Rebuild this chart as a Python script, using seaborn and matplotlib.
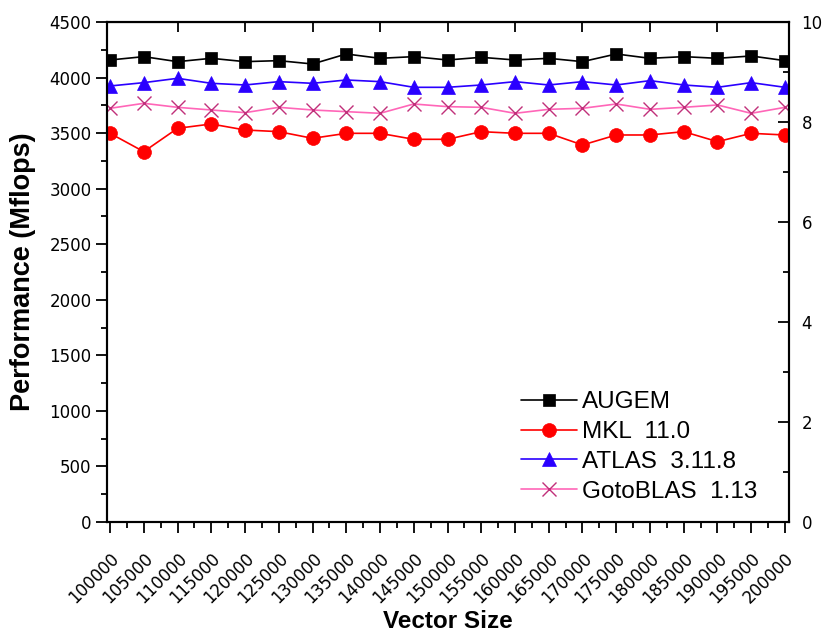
import pandas as pd
import matplotlib.pyplot as plt
import matplotlib.ticker as mticker
import seaborn as sns

vector_size = list(range(100000, 200001, 5000))

augem = [4158, 4188, 4143, 4173, 4143, 4152, 4122, 4212, 4173, 4188, 4158,
         4182, 4158, 4173, 4143, 4212, 4173, 4188, 4173, 4194, 4152]
mkl = [3498, 3333, 3543, 3582, 3528, 3513, 3453, 3498, 3498, 3444, 3444,
       3513, 3498, 3498, 3393, 3483, 3483, 3513, 3423, 3498, 3483]
atlas = [3924, 3954, 3993, 3948, 3933, 3963, 3948, 3978, 3963, 3912, 3912,
         3933, 3963, 3933, 3963, 3933, 3972, 3933, 3912, 3954, 3912]
goto = [3723, 3768, 3732, 3708, 3684, 3732, 3708, 3693, 3678, 3762, 3738,
        3732, 3678, 3714, 3723, 3762, 3714, 3732, 3753, 3678, 3732]

names = ['AUGEM', 'MKL  11.0', 'ATLAS  3.11.8', 'GotoBLAS  1.13']

df = pd.concat([
    pd.DataFrame({'size': vector_size, 'perf': augem, 'lib': names[0]}),
    pd.DataFrame({'size': vector_size, 'perf': mkl, 'lib': names[1]}),
    pd.DataFrame({'size': vector_size, 'perf': atlas, 'lib': names[2]}),
    pd.DataFrame({'size': vector_size, 'perf': goto, 'lib': names[3]}),
])

sns.set_style('ticks')
plt.rcParams['font.family'] = ['Liberation Sans', 'DejaVu Sans']
plt.rcParams['text.color'] = 'black'
plt.rcParams['axes.labelcolor'] = 'black'
plt.rcParams['xtick.color'] = 'black'
plt.rcParams['ytick.color'] = 'black'
plt.rcParams['axes.edgecolor'] = 'black'

fig = plt.figure(figsize=(8.25, 6.37), dpi=100)
ax = fig.add_axes([0.1297, 0.1805, 0.8267, 0.785])

colors = {names[0]: 'black', names[1]: '#ff0000', names[2]: '#2a00ff', names[3]: '#ff66b8'}
markers = {names[0]: 's', names[1]: 'o', names[2]: '^', names[3]: 'x'}
msize = {names[0]: 9, names[1]: 10, names[2]: 10, names[3]: 10}

for name in names:
    sub = df[df['lib'] == name]
    mec = '#c0307a' if name == names[3] else colors[name]
    sns.lineplot(data=sub, x='size', y='perf', ax=ax, color=colors[name],
                 marker=markers[name], markersize=msize[name], linewidth=1.2,
                 markeredgecolor=mec, markerfacecolor=colors[name],
                 markeredgewidth=1.0 if name == names[3] else 0.5,
                 label=name)

tick_font = {'family': 'DejaVu Sans', 'size': 12}

ax.set_xlim(99550, 200600)
ax.set_ylim(0, 4500)
ax.set_xticks(vector_size)
ax.set_xticklabels([str(v) for v in vector_size], rotation=45, ha='right',
                   rotation_mode='anchor', fontdict=tick_font)
ax.xaxis.set_minor_locator(mticker.MultipleLocator(2500))
ax.set_yticks(list(range(0, 4501, 500)))
ax.set_yticklabels([str(v) for v in range(0, 4501, 500)], fontdict=tick_font)
ax.yaxis.set_minor_locator(mticker.MultipleLocator(250))
ax.tick_params(axis='both', which='major', direction='out', length=8, width=1.3)
ax.tick_params(axis='both', which='minor', direction='out', length=4, width=1.3)
ax.tick_params(axis='x', which='major', pad=12)
ax.tick_params(axis='y', which='major', pad=3)
for s in ax.spines.values():
    s.set_linewidth(1.5)

ax.set_xlabel('Vector Size', fontsize=17.5, fontweight='bold', labelpad=2)
ax.set_ylabel('Performance (Mflops)', fontsize=19.5, fontweight='bold', labelpad=10)

top = ax.secondary_xaxis('top')
top.set_xticks(list(range(110000, 200000, 10000)))
top.set_xticklabels([])
top.tick_params(direction='in', length=7, width=1.3)

ax2 = ax.twinx()
ax2.set_ylim(0, 10)
ax2.set_yticks(list(range(0, 11, 2)))
ax2.set_yticklabels([str(v) for v in range(0, 11, 2)], fontdict=tick_font)
ax2.yaxis.set_minor_locator(mticker.MultipleLocator(1))
ax2.tick_params(axis='y', which='major', direction='in', length=8, width=1.3, pad=9)
ax2.tick_params(axis='y', which='minor', direction='in', length=4, width=1.3)
for s in ax2.spines.values():
    s.set_linewidth(1.5)

ax.legend(loc='lower right', bbox_to_anchor=(0.985, -0.005), frameon=False,
          prop={'family': 'Liberation Sans', 'size': 17.5},
          handlelength=2.3, labelspacing=0.32, handletextpad=0.2)

fig.savefig('out.png', dpi=100)
